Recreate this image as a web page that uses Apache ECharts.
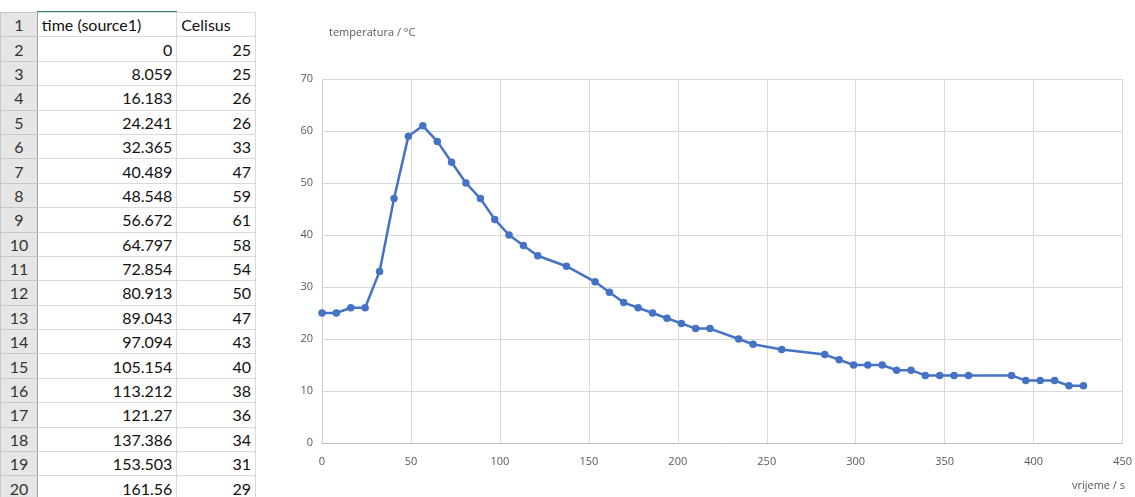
<!DOCTYPE html>
<html>
<head>
<meta charset="utf-8">
<script src="https://cdn.jsdelivr.net/npm/echarts@6/dist/echarts.min.js"></script>
<style>
html,body{margin:0;padding:0;background:#fff;width:1135px;height:497px;overflow:hidden;}
#chart{position:absolute;left:0;top:0;width:1135px;height:497px;}
#sheet{position:absolute;left:0;top:0;width:256px;height:497px;overflow:hidden;background:#fff;font-family:Lato,"Open Sans",sans-serif;font-size:16px;color:#111;}
table{border-collapse:collapse;position:absolute;left:0;top:12px;table-layout:fixed;}
td{height:23.4px;padding:0 4px;border:1px solid #dadada;white-space:nowrap;overflow:hidden;line-height:23px;}
td.rn{width:28px;background:#e6e6e6;text-align:center;color:#333;border-color:#c8c8c8;border-right:1px solid #9f9f9f;}
td.a{width:131px;text-align:right;}
td.b{width:70px;text-align:right;}
td.h{text-align:left;}
#gline{position:absolute;left:37px;top:11px;width:140px;height:2px;background:#2e8b57;}
</style>
</head>
<body>
<div id="chart"></div>
<div id="sheet"><div id="gline"></div><table id="tbl"></table></div>
<script>
// Data (table values exact, remaining points)
const timeValues = [0, 8.059, 16.183, 24.241, 32.365, 40.489, 48.548, 56.672, 64.797, 72.854,
  80.913, 89.043, 97.094, 105.154, 113.212, 121.27, 137.386, 153.503, 161.56,
  169.6, 177.7, 185.8, 193.9, 202.0, 210.0, 218.1, 234.2, 242.3, 258.4, 282.6,
  290.7, 298.8, 306.8, 314.9, 323.0, 331.1, 339.1, 347.2, 355.3, 363.4, 387.6,
  395.6, 403.7, 411.8, 419.9, 428.0];
const celsiusValues = [25, 25, 26, 26, 33, 47, 59, 61, 58, 54, 50, 47, 43, 40, 38, 36, 34, 31, 29,
  27, 26, 25, 24, 23, 22, 22, 20, 19, 18, 17, 16, 15, 15, 15, 14, 14, 13, 13, 13, 13, 13,
  12, 12, 12, 11, 11];
const headerCols = ["time (source1)", "Celisus"];
const visibleRows = 19;
const yTitle = "temperatura / \u00B0C";
const xTitle = "vrijeme / s";

// spreadsheet
const tbl = document.getElementById('tbl');
let html = '<tr><td class="rn">1</td><td class="a h">' + headerCols[0] + '</td><td class="b h">' + headerCols[1] + '</td></tr>';
for (let i = 0; i < visibleRows; i++) {
  html += '<tr><td class="rn">' + (i + 2) + '</td><td class="a">' + String(timeValues[i]) + '</td><td class="b">' + celsiusValues[i] + '</td></tr>';
}
tbl.innerHTML = html;

const chart = echarts.init(document.getElementById('chart'));
const pts = timeValues.map((t, i) => [t, celsiusValues[i]]);
const lab = {color: '#595959', fontSize: 11, fontFamily: '"Open Sans", "DejaVu Sans", sans-serif'};
chart.setOption({
  animation: false,
  grid: {left: 322, right: 10, top: 79, bottom: 54, containLabel: false},
  title: {text: yTitle, left: 324, top: 22, textStyle: {color: '#595959', fontSize: 11, fontWeight: 'normal', fontFamily: '"Open Sans", sans-serif'}},
  graphic: [{type: 'text', right: 10, top: 480, style: {text: xTitle, fill: '#595959', font: '11px "Open Sans", sans-serif'}}],
  xAxis: {
    type: 'value', min: 0, max: 450, interval: 50,
    axisLine: {show: true, lineStyle: {color: '#bfbfbf'}},
    axisTick: {show: false},
    splitLine: {show: true, lineStyle: {color: '#d9d9d9'}},
    axisLabel: Object.assign({margin: 13}, lab)
  },
  yAxis: {
    type: 'value', min: 0, max: 70, interval: 10,
    axisLine: {show: true, lineStyle: {color: '#d0d0d0'}},
    axisTick: {show: false},
    splitLine: {show: true, lineStyle: {color: '#d9d9d9'}},
    axisLabel: Object.assign({margin: 9}, lab)
  },
  series: [{
    type: 'line', data: pts,
    symbol: 'circle', symbolSize: 7.5,
    lineStyle: {color: '#4472C4', width: 2.5},
    itemStyle: {color: '#4472C4'}
  }]
});
</script>
</body>
</html>
